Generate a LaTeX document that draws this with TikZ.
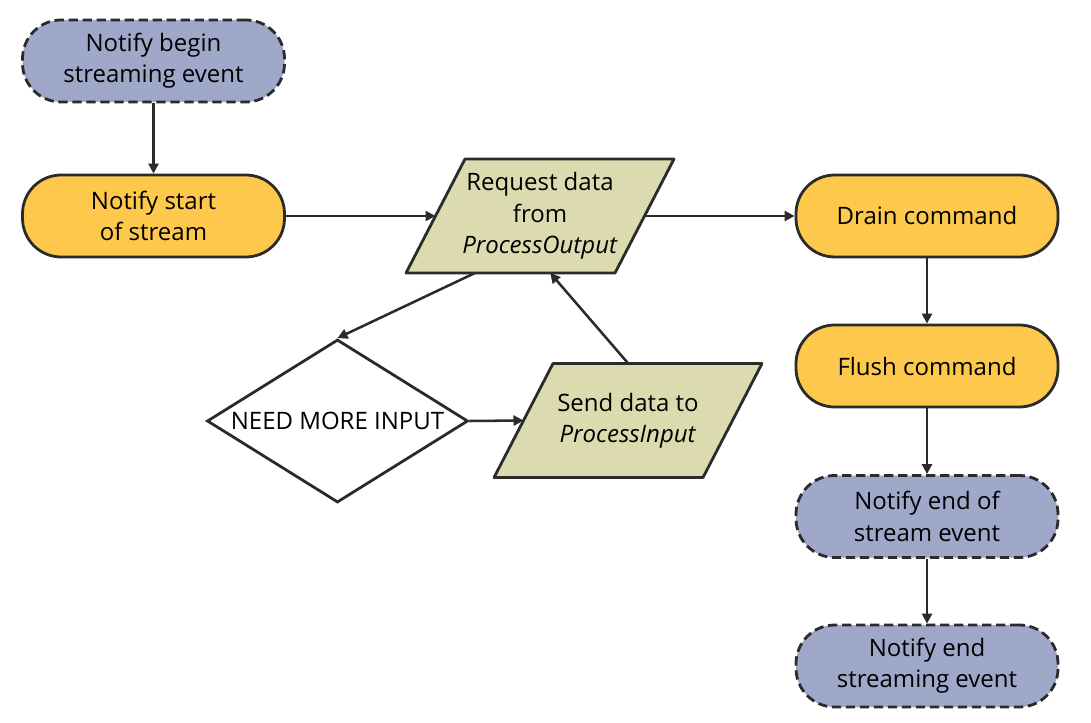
\documentclass[tikz,border=0pt]{standalone}
\usepackage{fontspec}
\setmainfont{Open Sans}
\usetikzlibrary{shapes.geometric,arrows.meta,calc,backgrounds}
\definecolor{evblue}{HTML}{9FA8C9}
\definecolor{cmdorange}{HTML}{FDC84B}
\definecolor{ioolive}{HTML}{DCDBB0}
\definecolor{edgegray}{HTML}{2B2B2B}
\newcommand\ioframe[1]{%
  \draw[ioshape] ($(#1)+(-75,-57)$) coordinate (#1TL)
    -- ($(#1)+(134,-57)$) coordinate (#1TR)
    -- ($(#1)+(75,57)$) coordinate (#1BR)
    -- ($(#1)+(-134,57)$) coordinate (#1BL) -- cycle;}
\begin{document}
\begin{tikzpicture}[x=0.75pt,y=-0.75pt,
  base/.style={draw=edgegray, line width=2.1pt, font=\fontsize{18}{23.5}\selectfont, text=black, align=center, inner sep=2pt},
  stadium/.style={base, rectangle, rounded corners=29pt, minimum width=196.5pt, minimum height=61.5pt},
  evbox/.style={stadium, fill=evblue, dash pattern=on 7pt off 3.5pt},
  cmdbox/.style={stadium, fill=cmdorange},
  iotext/.style={font=\fontsize{18}{23.5}\selectfont, text=black, align=center, inner sep=0pt},
  ioshape/.style={draw=edgegray, line width=2.1pt, line join=round, fill=ioolive},
  decbox/.style={base, diamond, minimum width=195.75pt, minimum height=122.25pt, fill=white, inner sep=0pt},
  flow/.style={draw=edgegray, line width=1.9pt, -{Triangle[length=7.5pt,width=7.5pt]}}
]
\useasboundingbox (0,0) rectangle (1091,723);
\node[evbox] (begin) at (153.5,61) {Notify begin\\streaming event};
\node[cmdbox] (start) at (153.5,216) {Notify start\\of stream};
\node[iotext] (req) at (540,216) {Request data\\from\\\textit{ProcessOutput}};
\node[decbox] (dec) at (337.5,421) {\makebox[0pt]{NEED MORE INPUT}};
\node[iotext] (send) at (628,420.5) {Send data to\\\textit{ProcessInput}};
\node[cmdbox] (drain) at (927,216) {Drain command};
\node[cmdbox] (flush) at (927,366) {Flush command};
\node[evbox] (eos) at (927,516.5) {Notify end of\\stream event};
\node[evbox] (ees) at (927,666) {Notify end\\streaming event};
\begin{scope}[on background layer]
  \ioframe{req}
  \ioframe{send}
\end{scope}
\draw[flow] (begin.south) -- (start.north);
\draw[flow] (start.east) -- ($(reqTL)!0.5!(reqBL)$);
\draw[flow] ($(reqTR)!0.5!(reqBR)$) -- (drain.west);
\draw[flow] ($(reqBL)!0.33!(reqBR)$) -- (dec.north);
\draw[flow] (dec.east) -- ($(sendTL)!0.5!(sendBL)$);
\draw[flow] ($(sendTL)!0.36!(sendTR)$) -- ($(reqBL)!0.69!(reqBR)$);
\draw[flow] (drain.south) -- (flush.north);
\draw[flow] (flush.south) -- (eos.north);
\draw[flow] (eos.south) -- (ees.north);
\end{tikzpicture}
\end{document}
